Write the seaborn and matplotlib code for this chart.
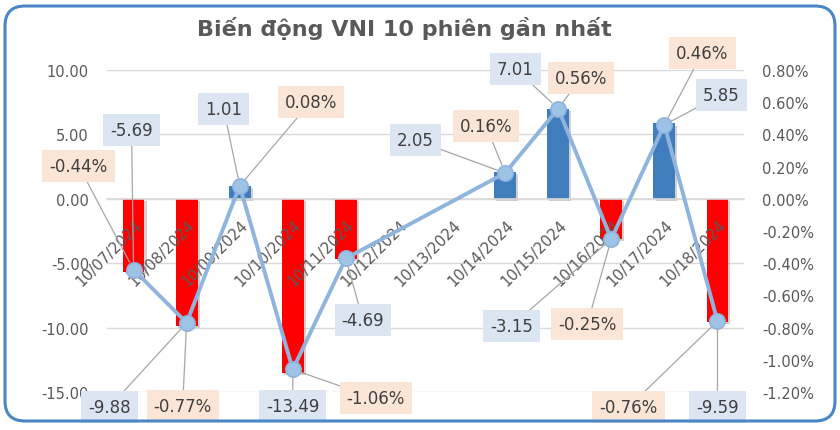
import numpy as np
import pandas as pd
import matplotlib
matplotlib.use("Agg")
import matplotlib.pyplot as plt
import matplotlib.patheffects as pe
from matplotlib.patches import FancyBboxPatch
from matplotlib.transforms import IdentityTransform
import seaborn as sns

# ---------------- data ----------------
axis_dates = ["10/07/2024", "10/08/2024", "10/09/2024", "10/10/2024", "10/11/2024",
              "10/12/2024", "10/13/2024", "10/14/2024", "10/15/2024", "10/16/2024",
              "10/17/2024", "10/18/2024"]
trade_dates = ["10/07/2024", "10/08/2024", "10/09/2024", "10/10/2024", "10/11/2024",
               "10/14/2024", "10/15/2024", "10/16/2024", "10/17/2024", "10/18/2024"]
point_change = [-5.69, -9.88, 1.01, -13.49, -4.69, 2.05, 7.01, -3.15, 5.85, -9.59]
pct_change = [-0.44, -0.77, 0.08, -1.06, -0.37, 0.16, 0.56, -0.25, 0.46, -0.76]
pct_label_shown = [True, True, True, True, False, True, True, True, True, True]

title = "Biến động VNI 10 phiên gần nhất"

# label offsets (pixels, from the line marker): value label, pct label
val_off = [(-2, 140), (-77, -84), (-16, 77), (0, -37), (17, -62),
           (-90, 33), (-43, 40), (-100, -87), (57, 30), (0, -86)]
pct_off = [(-55, 104), (-4, -83), (71, 84), (83, -29), (0, 0),
           (-19, 47), (23, 31), (-24, -85), (38, 72), (-89, -86)]

# ---------------- figure ----------------
sns.set_theme(style="white")
plt.rcParams["font.family"] = ["DejaVu Sans"]

fig = plt.figure(figsize=(8.4, 4.31), dpi=100)
fig.patch.set_facecolor("white")
ax = fig.add_axes([107 / 840, 1 - 393 / 431, (744 - 107) / 840, (393 - 71) / 431])

df = pd.DataFrame({"date": trade_dates, "change": point_change})
df["sign"] = np.where(df["change"] >= 0, "up", "down")

sns.barplot(data=df, x="date", y="change", hue="sign", order=axis_dates,
            palette={"up": "#3f7dbd", "down": "#ff0000"}, dodge=False,
            width=0.41, legend=False, ax=ax, saturation=1, edgecolor="none")
for p in ax.patches:
    p.set_path_effects([pe.SimplePatchShadow(offset=(1.5, -1.5), shadow_rgbFace="#808080", alpha=0.35),
                        pe.Normal()])

ax.set_xlim(-0.5, len(axis_dates) - 0.5)
ax.set_ylim(-15, 10)
ax.set_yticks(np.arange(-15, 10.1, 5))
ax.set_yticklabels([f"{v:.2f}" for v in np.arange(-15, 10.1, 5)])
ax.yaxis.grid(True, color="#d9d9d9", lw=1)
ax.set_axisbelow(True)
for s in ["top", "left", "right"]:
    ax.spines[s].set_visible(False)
ax.spines["bottom"].set_position(("data", 0))
ax.spines["bottom"].set_color("#d9d9d9")
ax.spines["bottom"].set_linewidth(1.2)
ax.set_xticks(np.arange(len(axis_dates)))
ax.set_xticklabels([])
ax.set_xticks(np.arange(-0.5, len(axis_dates)), minor=True)
ax.tick_params(axis="x", which="major", length=0)
ax.tick_params(axis="x", which="minor", length=4, color="#d9d9d9", direction="out", width=1)
ax.tick_params(axis="y", length=0, pad=13, labelsize=10.5, labelcolor="#595959")
ax.set_xlabel("")
ax.set_ylabel("")

for i, d in enumerate(axis_dates):
    ax.annotate(d, xy=(i, 0), xytext=(6, -23), textcoords="offset pixels",
                rotation=45, ha="right", va="center", rotation_mode="anchor",
                fontsize=10.8, color="#595959", zorder=3)

# ---------------- line on secondary axis ----------------
ax2 = ax.twinx()
pos = [axis_dates.index(d) for d in trade_dates]
sns.lineplot(x=pos, y=np.array(pct_change) / 100, ax=ax2, sort=False,
             color="#8fb4de", lw=2.8, marker="o", markersize=11,
             markerfacecolor="#9dc3e6", markeredgecolor="#8fb4de", markeredgewidth=1.2,
             zorder=4)
ax2.set_ylim(-0.012, 0.008)
rt = np.arange(-0.012, 0.0081, 0.002)
ax2.set_yticks(rt)
ax2.set_yticklabels([f"{v*100:.2f}%" for v in rt])
ax2.tick_params(axis="y", length=0, pad=13, labelsize=10.5, labelcolor="#595959")
for s in ax2.spines.values():
    s.set_visible(False)
ax2.set_xlim(-0.5, len(axis_dates) - 0.5)
ax2.set_ylabel("")

# ---------------- data labels ----------------
for k, (x, v, p) in enumerate(zip(pos, point_change, pct_change)):
    xy = (x, p / 100)
    ax2.annotate(f"{v:.2f}", xy=xy, xytext=val_off[k], textcoords="offset pixels",
                 ha="center", va="center", fontsize=12, color="#404040",
                 bbox=dict(boxstyle="square,pad=0.42", fc="#dce6f2", ec="none"),
                 arrowprops=dict(arrowstyle="-", color="#a6a6a6", lw=0.9,
                                 shrinkA=0, shrinkB=6),
                 zorder=6, annotation_clip=False)
    if pct_label_shown[k]:
        ax2.annotate(f"{p:.2f}%", xy=xy, xytext=pct_off[k], textcoords="offset pixels",
                     ha="center", va="center", fontsize=12, color="#404040",
                     bbox=dict(boxstyle="square,pad=0.42", fc="#fbe5d6", ec="none"),
                     arrowprops=dict(arrowstyle="-", color="#a6a6a6", lw=0.9,
                                     shrinkA=0, shrinkB=6),
                     zorder=6, annotation_clip=False)

# ---------------- title & frame ----------------
fig.text(404 / 840, 1 - 29 / 431, title, ha="center", va="center",
         fontsize=16, fontweight="bold", color="#595959")

frame = FancyBboxPatch((5, 9), 830, 415, boxstyle="round,pad=0,rounding_size=20",
                       transform=IdentityTransform(), fc="none", ec="#4a86c5", lw=2.2,
                       zorder=10)
fig.patches.append(frame)

fig.savefig("out.png", dpi=100)
